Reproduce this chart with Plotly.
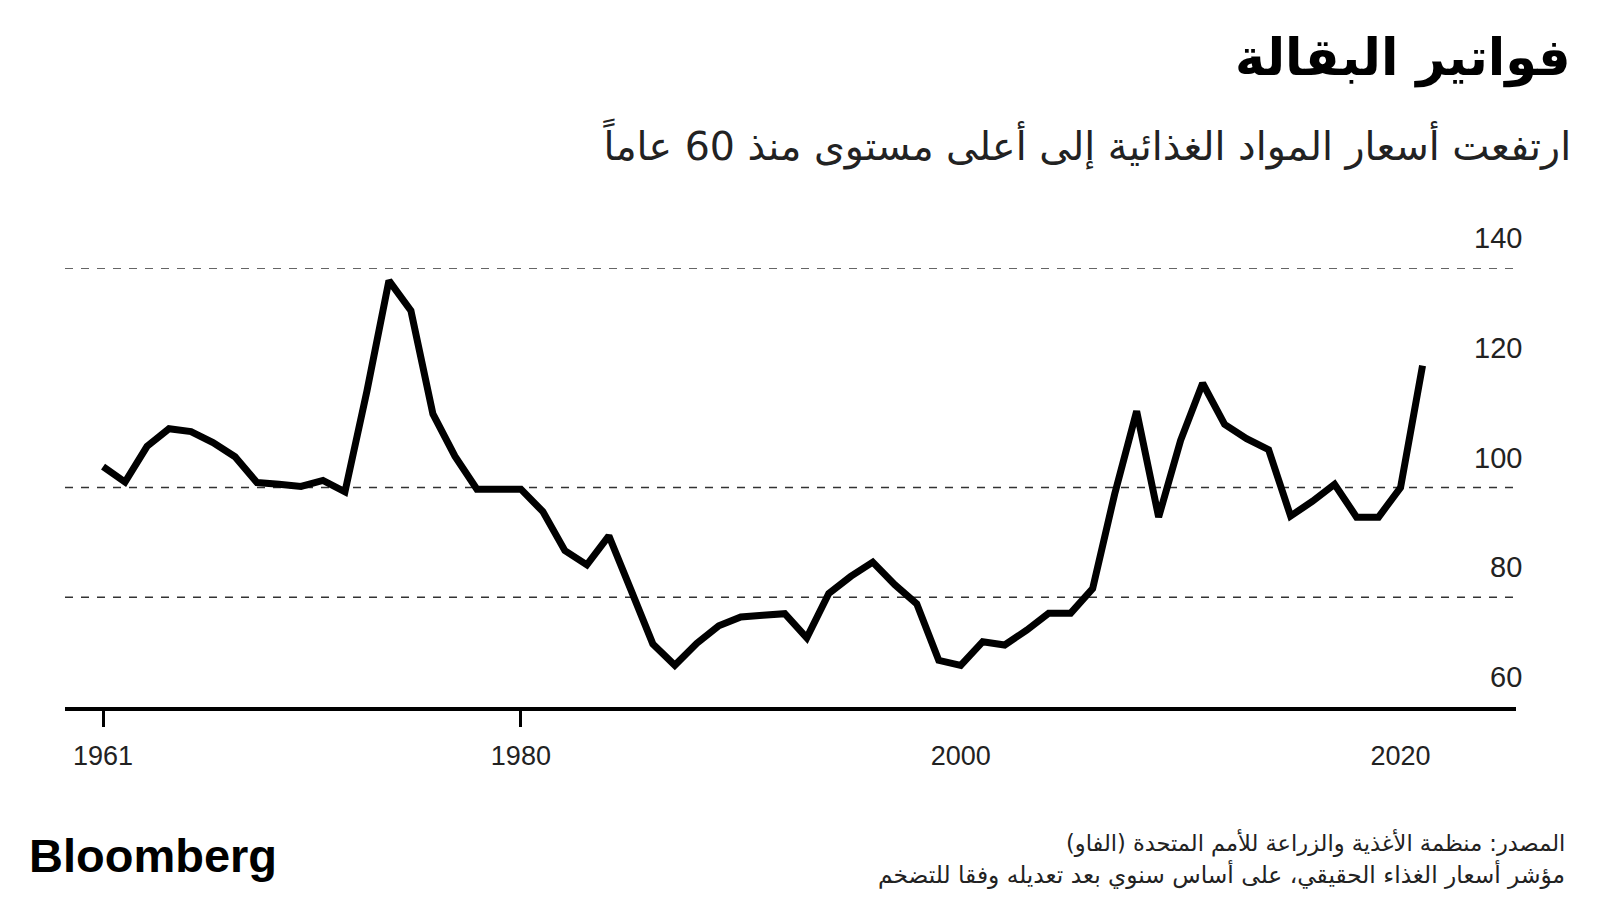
import plotly.graph_objects as go

years = list(range(1961, 2022))
index_values = [
    103.8, 101.0, 107.5, 110.7, 110.2, 108.2, 105.6, 100.9, 100.6, 100.2,
    101.3, 99.2, 117.6, 137.7, 132.2, 113.4, 105.7, 99.7, 99.7, 99.7,
    95.6, 88.5, 85.9, 91.2, 81.4, 71.5, 67.6, 71.6, 74.8, 76.4,
    76.7, 77.0, 72.6, 80.7, 83.8, 86.4, 82.3, 78.8, 68.5, 67.6,
    71.9, 71.3, 74.0, 77.1, 77.1, 81.6, 98.8, 113.9, 94.6, 108.6,
    119.0, 111.5, 108.9, 106.9, 94.8, 97.5, 100.6, 94.6, 94.6, 100.0,
    122.2,
]

x_tick_vals = [1961, 1980, 2000, 2020]
x_tick_text = ["1961", "1980", "2000", "2020"]
x_tick_marks = [1961, 1980]
y_tick_vals = [60, 80, 100, 120, 140]
y_tick_text = ["60", "80", "100", "120", "140"]
grid_vals = [80, 100, 140]

title = "فواتير البقالة"
subtitle = "ارتفعت أسعار المواد الغذائية إلى أعلى مستوى منذ 60 عاماً"
source_line = "المصدر: منظمة الأغذية والزراعة للأمم المتحدة (الفاو)"
note_line = "مؤشر أسعار الغذاء الحقيقي، على أساس سنوي بعد تعديله وفقا للتضخم"
brand = "Bloomberg"

NUM_FONT = "Liberation Sans, Arial, sans-serif"
AR_FONT = "DejaVu Sans, sans-serif"

fig = go.Figure()
fig.add_trace(go.Scatter(
    x=years, y=index_values, mode="lines",
    line=dict(color="#000000", width=7),
    hoverinfo="skip", showlegend=False,
))
# invisible trace for overlay axis carrying tick marks
fig.add_trace(go.Scatter(x=years, y=index_values, xaxis="x2", mode="lines",
                         line=dict(width=0), opacity=0, hoverinfo="skip",
                         showlegend=False))

XR = [1959.27, 2025.25]
fig.update_layout(
    width=1600, height=900,
    margin=dict(l=65, r=84, t=268, b=193),
    paper_bgcolor="white", plot_bgcolor="white",
    xaxis=dict(
        range=XR, tickvals=x_tick_vals, ticktext=x_tick_text,
        ticks="outside", ticklen=19, tickcolor="rgba(0,0,0,0)",
        ticklabelstandoff=3,
        showline=True, linecolor="#000000", linewidth=3.5,
        showgrid=False, zeroline=False,
        tickfont=dict(family=NUM_FONT, size=27, color="#222222"),
    ),
    xaxis2=dict(
        range=XR, overlaying="x", anchor="y", side="bottom",
        tickvals=x_tick_marks, ticks="outside", ticklen=19, tickwidth=2.5,
        tickcolor="#000000", showticklabels=False, showgrid=False,
        zeroline=False, showline=False,
    ),
    yaxis=dict(
        range=[60, 140], showticklabels=False, showgrid=False,
        zeroline=False, showline=False, ticks="",
    ),
)

for g in grid_vals:
    fig.add_shape(type="line", xref="paper", x0=0, x1=1, yref="y", y0=g, y1=g,
                  line=dict(color="#333333", width=1.4, dash="8px,8px"),
                  layer="below")

for v, t in zip(y_tick_vals, y_tick_text):
    fig.add_annotation(text=t, xref="paper", x=1, xanchor="right", xshift=8,
                       yref="y", y=v, yanchor="middle", yshift=30,
                       showarrow=False,
                       font=dict(family=NUM_FONT, size=29, color="#222222"))

fig.add_annotation(text=title, xref="paper", x=1.039, xanchor="right",
                   yref="paper", y=1.4774, yanchor="middle", showarrow=False,
                   font=dict(family=AR_FONT, size=51, color="#000000",
                             weight="bold"))
fig.add_annotation(text=subtitle, xref="paper", x=1.039, xanchor="right",
                   yref="paper", y=1.2814, yanchor="middle", showarrow=False,
                   font=dict(family=AR_FONT, size=39.5, color="#222222"))
fig.add_annotation(text=source_line, xref="paper", x=1.0349, xanchor="right",
                   yref="paper", y=-0.310, yanchor="middle", showarrow=False,
                   font=dict(family=AR_FONT, size=22.5, color="#222222"))
fig.add_annotation(text=note_line, xref="paper", x=1.0349, xanchor="right",
                   yref="paper", y=-0.381, yanchor="middle", showarrow=False,
                   font=dict(family=AR_FONT, size=23.3, color="#222222"))
fig.add_annotation(text=brand, xref="paper", x=-0.0265, xanchor="left",
                   yref="paper", y=-0.338, yanchor="middle", showarrow=False,
                   font=dict(family="Liberation Sans, Arial, sans-serif",
                             size=47, color="#000000", weight="bold"))

fig.write_html("out.html")
